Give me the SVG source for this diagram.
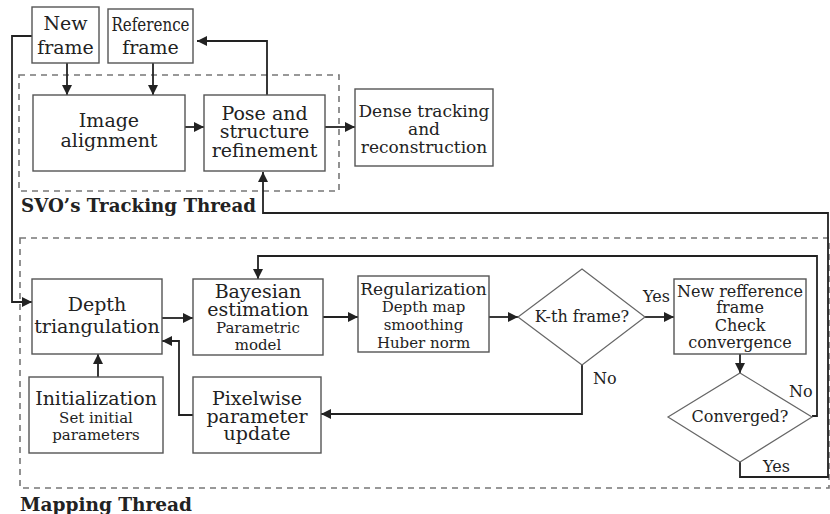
<svg xmlns="http://www.w3.org/2000/svg" width="830" height="514" viewBox="0 0 830 514">
  <style>
    .box { fill: #fff; stroke: #555; stroke-width: 1.4; }
    .dia { fill: #fff; stroke: #666; stroke-width: 1.2; }
    .frame { fill: none; stroke: #777; stroke-width: 1.6; stroke-dasharray: 6 5; }
    .wire { fill: none; stroke: #222; stroke-width: 1.8; }
    text { font-family: "DejaVu Serif", "Liberation Serif", serif; fill: #222; text-anchor: middle; }
    .big { font-size: 19px; }
    .mid { font-size: 17px; }
    .small { font-size: 15px; }
    .lbl { font-size: 16px; text-anchor: start; }
    .title { font-size: 19px; font-weight: bold; text-anchor: start; }
  </style>
  <defs>
    <marker id="arrow" viewBox="0 0 10 10" refX="10" refY="5" markerWidth="10" markerHeight="10" markerUnits="userSpaceOnUse" orient="auto">
      <path d="M0,0 L10,5 L0,10 Z" fill="#222"/>
    </marker>
  </defs>
  <rect width="830" height="514" fill="#fff"/>

  <!-- thread frames -->
  <g id="tracking-thread">
    <rect class="frame" x="19" y="75" width="320" height="116"/>
    <text class="title" x="21" y="212" textLength="235" lengthAdjust="spacingAndGlyphs">SVO’s Tracking Thread</text>
  </g>
  <g id="mapping-thread">
    <rect class="frame" x="20" y="238" width="809" height="250"/>
    <text class="title" x="20" y="511" textLength="172" lengthAdjust="spacingAndGlyphs">Mapping Thread</text>
  </g>

  <!-- connectors -->
  <g id="connectors">
    <line class="wire" x1="67" y1="63" x2="67" y2="95" marker-end="url(#arrow)"/>
    <line class="wire" x1="153" y1="63" x2="153" y2="95" marker-end="url(#arrow)"/>
    <line class="wire" x1="185" y1="127" x2="204" y2="127" marker-end="url(#arrow)"/>
    <line class="wire" x1="325" y1="127" x2="355" y2="127" marker-end="url(#arrow)"/>
    <polyline class="wire" points="267,95 267,41 197,41" marker-end="url(#arrow)"/>
    <polyline class="wire" points="32,36 12,36 12,302 32,302" marker-end="url(#arrow)"/>
    <line class="wire" x1="162" y1="318" x2="193" y2="318" marker-end="url(#arrow)"/>
    <line class="wire" x1="323" y1="317" x2="358" y2="317" marker-end="url(#arrow)"/>
    <line class="wire" x1="489" y1="317" x2="518" y2="317" marker-end="url(#arrow)"/>
    <line class="wire" x1="645" y1="317" x2="674" y2="317" marker-end="url(#arrow)"/>
    <line class="wire" x1="98" y1="377" x2="98" y2="354" marker-end="url(#arrow)"/>
    <polyline class="wire" points="193,415 179,415 179,341 162,341" marker-end="url(#arrow)"/>
    <polyline class="wire" points="582,365 582,414 321,414" marker-end="url(#arrow)"/>
    <line class="wire" x1="740" y1="354" x2="740" y2="373" marker-end="url(#arrow)"/>
    <polyline class="wire" points="812,416 817,416 817,256 258,256 258,279" marker-end="url(#arrow)"/>
    <polyline class="wire" points="740,462 740,477 828,477 828,213 263,213 263,172" marker-end="url(#arrow)"/>
    <text class="lbl" x="643" y="302">Yes</text>
    <text class="lbl" x="593" y="384">No</text>
    <text class="lbl" x="789" y="397">No</text>
    <text class="lbl" x="763" y="472">Yes</text>
  </g>

  <!-- tracking nodes -->
  <g id="new-frame">
    <rect class="box" x="32" y="7" width="67" height="56"/>
    <text class="big" x="65.5" y="30">New</text>
    <text class="big" x="65.5" y="54">frame</text>
  </g>
  <g id="reference-frame">
    <rect class="box" x="108" y="9" width="85" height="54"/>
    <text class="big" x="150.5" y="31" textLength="78" lengthAdjust="spacingAndGlyphs">Reference</text>
    <text class="big" x="150.5" y="54">frame</text>
  </g>
  <g id="image-alignment">
    <rect class="box" x="33" y="95" width="152" height="76"/>
    <text class="big" x="109" y="127">Image</text>
    <text class="big" x="109" y="147">alignment</text>
  </g>
  <g id="pose-refinement">
    <rect class="box" x="204" y="95" width="121" height="76"/>
    <text class="big" x="264.5" y="120">Pose and</text>
    <text class="big" x="264.5" y="138">structure</text>
    <text class="big" x="264.5" y="157">refinement</text>
  </g>
  <g id="dense-tracking">
    <rect class="box" x="355" y="89" width="138" height="77"/>
    <text class="mid" x="424" y="117">Dense tracking</text>
    <text class="mid" x="424" y="135">and</text>
    <text class="mid" x="424" y="153">reconstruction</text>
  </g>

  <!-- mapping nodes -->
  <g id="depth-triangulation">
    <rect class="box" x="32" y="279" width="130" height="75"/>
    <text class="big" x="97" y="311">Depth</text>
    <text class="big" x="97" y="333">triangulation</text>
  </g>
  <g id="bayesian-estimation">
    <rect class="box" x="193" y="279" width="130" height="76"/>
    <text class="big" x="258" y="298">Bayesian</text>
    <text class="big" x="258" y="316">estimation</text>
    <text class="small" x="258" y="333">Parametric</text>
    <text class="small" x="258" y="350">model</text>
  </g>
  <g id="regularization">
    <rect class="box" x="358" y="276" width="131" height="76"/>
    <text class="mid" x="423.5" y="295">Regularization</text>
    <text class="small" x="423.5" y="312">Depth map</text>
    <text class="small" x="423.5" y="330">smoothing</text>
    <text class="small" x="423.5" y="348">Huber norm</text>
  </g>
  <g id="kth-frame">
    <polygon class="dia" points="582,269 645,317 582,365 518,317"/>
    <text class="lbl" x="582" y="322" style="text-anchor: middle">K-th frame?</text>
  </g>
  <g id="new-reference">
    <rect class="box" x="674" y="279" width="132" height="75"/>
    <text class="lbl" x="740" y="297" style="text-anchor: middle">New refference</text>
    <text class="lbl" x="740" y="313" style="text-anchor: middle">frame</text>
    <text class="lbl" x="740" y="331" style="text-anchor: middle">Check</text>
    <text class="lbl" x="740" y="348" style="text-anchor: middle">convergence</text>
  </g>
  <g id="converged">
    <polygon class="dia" points="740,373 812,417 740,462 668,417"/>
    <text class="lbl" x="740" y="422" style="text-anchor: middle">Converged?</text>
  </g>
  <g id="initialization">
    <rect class="box" x="29" y="377" width="134" height="76"/>
    <text class="big" x="96" y="405">Initialization</text>
    <text class="small" x="96" y="423">Set initial</text>
    <text class="small" x="96" y="440">parameters</text>
  </g>
  <g id="pixelwise-update">
    <rect class="box" x="193" y="377" width="128" height="76"/>
    <text class="big" x="257" y="405">Pixelwise</text>
    <text class="big" x="257" y="423">parameter</text>
    <text class="big" x="257" y="440">update</text>
  </g>
</svg>
